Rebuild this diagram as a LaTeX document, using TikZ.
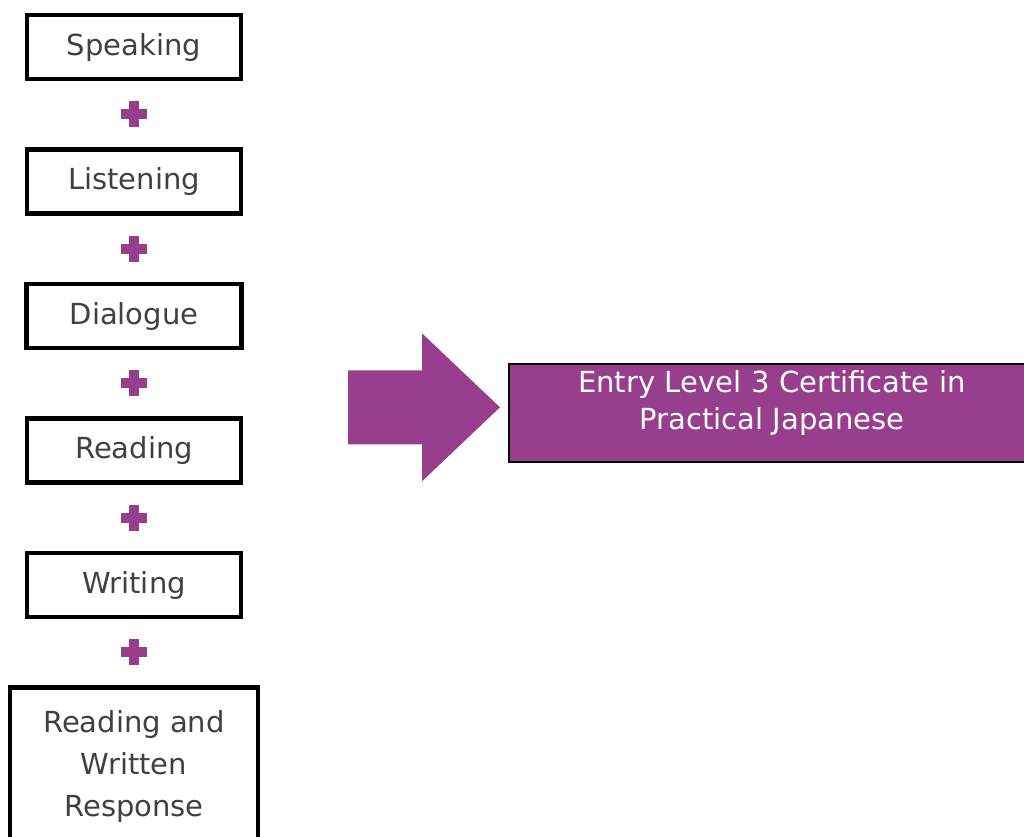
\documentclass[tikz,border=0pt]{standalone}
\usepackage{fontspec}
\setmainfont{DejaVu Sans}
\usepackage{xcolor}
\usetikzlibrary{calc,chains,positioning}
\definecolor{jpurple}{RGB}{151,62,141}
\definecolor{txtgrey}{RGB}{64,64,64}

\begin{document}
\begin{tikzpicture}[x=1pt, y=-1pt,
    skill/.style={draw, line width=4.5pt, minimum width=214pt, minimum height=64pt,
      text=txtgrey, font=\fontsize{29}{42}\selectfont, on chain},
    plus/.style={minimum size=26pt, inner sep=0pt, path picture={
      \fill[jpurple] ([xshift=-13pt,yshift=-5pt]path picture bounding box.center) rectangle ++(26pt,10pt);
      \fill[jpurple] ([xshift=-5pt,yshift=-13pt]path picture bounding box.center) rectangle ++(10pt,26pt);}},
    result/.style={draw, line width=2pt, fill=jpurple, text=white,
      minimum width=526pt, minimum height=98pt, inner ysep=3pt,
      text width=500pt, align=center, text height=25pt, text depth=67pt,
      font=\fontsize{29}{36.7}\selectfont},
    start chain=going below, node distance=66pt]

  \useasboundingbox (0,0) rectangle (1024,836);

  \node[skill] (spk) at (134,47) {Speaking};
  \node[skill] (lst) {Listening};
  \node[skill, minimum width=215pt] (dlg) {Dialogue};
  \node[skill] (rdg) {Reading};
  \node[skill] (wrt) {Writing};
  \node[skill, minimum width=248pt, minimum height=158pt, align=center] (rwr)
    {Reading and\\Written\\Response};

  \foreach \a/\b [count=\i] in {spk/lst,lst/dlg,dlg/rdg,rdg/wrt,wrt/rwr}
    \node[plus] (p\i) at ($(\a.south)!0.5!(\b.north)$) {};

  \node[result] (cert) at (772,413.3) {Entry Level 3 Certificate in\\Practical Japanese};

  \fill[jpurple] ($(cert.west)+(-8,-6)$) coordinate (tip) -- ++(-78,-74) -- ++(0,37)
    -- ++(-74,0) -- ++(0,74) -- ++(74,0) -- ++(0,37) -- cycle;
\end{tikzpicture}
\end{document}
